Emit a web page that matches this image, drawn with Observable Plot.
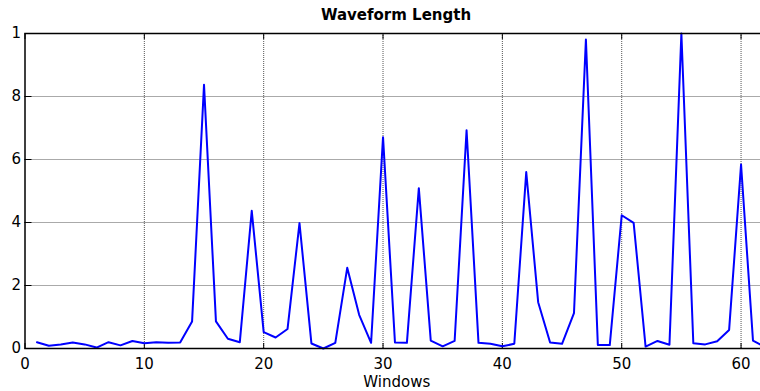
<!DOCTYPE html>
<html>
<head>
<meta charset="utf-8">
<script src="https://cdn.jsdelivr.net/npm/d3@7"></script>
<script src="https://cdn.jsdelivr.net/npm/@observablehq/plot@0.6"></script>
<style>
  html, body { margin: 0; padding: 0; background: #fff; overflow: hidden; }
  #chart { width: 768px; position: relative; }
  #title {
    position: relative; z-index: 2;
    width: 768px; height: 12px; box-sizing: border-box;
    padding-left: 24px; padding-top: 8px;
    font: bold 15px "DejaVu Sans", sans-serif; line-height: 1;
    text-align: center; color: #000; white-space: nowrap;
  }
  svg { display: block; position: relative; z-index: 1; }
</style>
</head>
<body>
<div id="chart">
  <div id="title">Waveform Length</div>
</div>
<script>
// Window index (x) and waveform length per window (y)
const windows = [
  1, 2, 3, 4, 5, 6, 7, 8, 9, 10,
  11, 12, 13, 14, 15, 16, 17, 18, 19, 20,
  21, 22, 23, 24, 25, 26, 27, 28, 29, 30,
  31, 32, 33, 34, 35, 36, 37, 38, 39, 40,
  41, 42, 43, 44, 45, 46, 47, 48, 49, 50,
  51, 52, 53, 54, 55, 56, 57, 58, 59, 60,
  61, 62
];
const waveformLength = [
  0.020, 0.009, 0.013, 0.019, 0.013, 0.003, 0.020, 0.010, 0.024, 0.017,
  0.020, 0.018, 0.019, 0.086, 0.837, 0.086, 0.031, 0.020, 0.437, 0.052,
  0.035, 0.062, 0.398, 0.016, 0.000, 0.018, 0.256, 0.107, 0.018, 0.671,
  0.019, 0.018, 0.509, 0.025, 0.007, 0.024, 0.693, 0.018, 0.015, 0.007,
  0.015, 0.560, 0.147, 0.019, 0.015, 0.112, 0.981, 0.011, 0.011, 0.423,
  0.399, 0.006, 0.024, 0.012, 1.000, 0.017, 0.013, 0.023, 0.059, 0.584,
  0.025, 0.005
];

// Axis ticks and their printed labels
const xTicks = [0, 10, 20, 30, 40, 50, 60];
const yTicks = [0, 0.2, 0.4, 0.6, 0.8, 1];
const yTickLabels = ["0", "2", "4", "6", "8", "1"];

const data = windows.map((w, i) => ({window: w, value: waveformLength[i]}));

const gridStyle = {stroke: "#555", strokeOpacity: 1, strokeWidth: 1, strokeDasharray: "1 1"};

const chart = Plot.plot({
  width: 768,
  height: 379,
  marginLeft: 24.5,
  marginRight: 0,
  marginTop: 21,
  marginBottom: 43,
  style: {fontFamily: "DejaVu Sans, sans-serif", fontSize: "15px", background: "transparent", color: "black"},
  x: {domain: [0, 62.3]},
  y: {domain: [0, 1]},
  marks: [
    Plot.gridX(xTicks.slice(1), gridStyle),
    Plot.gridY(yTicks.slice(1, -1), gridStyle),
    // inward tick marks
    Plot.axisX(xTicks, {anchor: "bottom", tickSize: -5, tickFormat: () => "", label: null}),
    Plot.axisX(xTicks, {anchor: "top", tickSize: -5, tickFormat: () => "", label: null}),
    Plot.axisY(yTicks, {anchor: "left", tickSize: -7, tickFormat: () => "", label: null}),
    // tick labels
    Plot.axisX(xTicks, {
      anchor: "bottom", tickSize: 0, tickPadding: 10,
      tickFormat: d => String(d),
      label: "Windows", labelAnchor: "center", labelOffset: 38, labelArrow: "none"
    }),
    Plot.axisY(yTicks, {
      anchor: "left", tickSize: 0, tickPadding: 4,
      tickFormat: (d, i) => yTickLabels[i], label: null
    }),
    Plot.line(data, {x: "window", y: "value", stroke: "#0000ff", strokeWidth: 2}),
    Plot.frame({stroke: "#000", strokeWidth: 1.5})
  ]
});

document.getElementById("chart").appendChild(chart);
</script>
</body>
</html>
